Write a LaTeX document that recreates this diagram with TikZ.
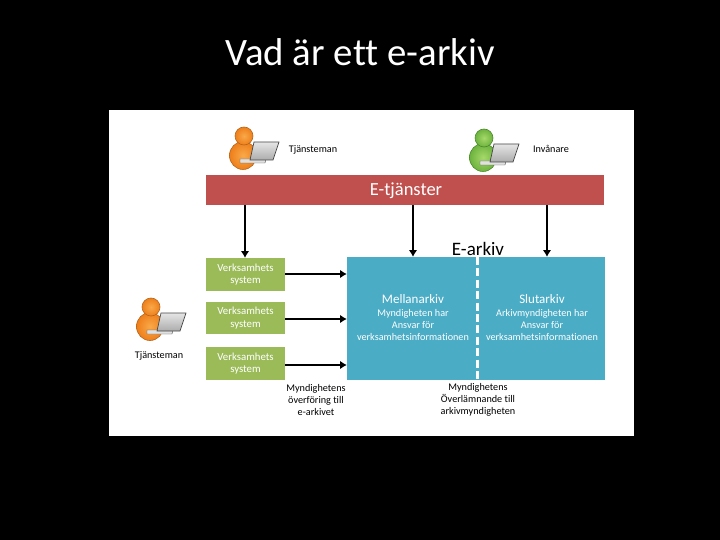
\documentclass[tikz,border=0pt]{standalone}
\usepackage{fontspec}
\setmainfont{Carlito}[Ligatures=CommonOff]
\usetikzlibrary{arrows.meta}
\definecolor{barred}{HTML}{C0504D}
\definecolor{archblue}{HTML}{4BACC6}
\definecolor{sysgreen}{HTML}{9BBB59}
\definecolor{orin}{HTML}{F9A94A}
\definecolor{orout}{HTML}{EE7F1A}
\definecolor{orline}{HTML}{B5651D}
\definecolor{grin}{HTML}{A6D96A}
\definecolor{grout}{HTML}{6DB33F}
\definecolor{grline}{HTML}{4C8A2B}
\tikzset{
  x=1pt,y=-1pt,
  flow/.style={draw=black,line width=2pt,-{Latex[length=7pt,width=8.5pt]}},
  plain/.style={inner sep=0pt,outer sep=0pt,font=\fontsize{10.2}{12}\selectfont,text=black,align=center},
  inblue/.style={inner sep=0pt,outer sep=0pt,font=\fontsize{10.2}{12}\selectfont,text=white,align=center},
  sysbox/.style={fill=sysgreen,minimum width=79pt,inner sep=0pt,outer sep=0pt,text=white,align=center,font=\fontsize{10.8}{12.5}\selectfont},
  pics/user/.style n args={3}{code={
    \shade[inner color=#1,outer color=#2,draw=#3,line width=.6pt] (-1,19.5) ellipse [x radius=13.5,y radius=14];
    \shade[inner color=#1,outer color=#2,draw=#3,line width=.6pt] (0,0) circle [radius=9];
    \fill[black!12,draw=gray!70!black,line width=.4pt] (-4,23) -- (22,23) -- (21,27) -- (-4,27) -- cycle;
    \shade[top color=gray!20,bottom color=gray!65,draw=gray!55!black,line width=.7pt]
      (10,6) -- (35,6) -- (29,24) -- (6,24) -- cycle;
  }}
}
\begin{document}
\begin{tikzpicture}
\useasboundingbox (0,0) rectangle (720,540);
\fill[black] (0,0) rectangle (720,540);
\fill[white] (109,110) rectangle (634,436);
\node[text=white,font=\fontsize{38.8}{44}\selectfont,inner sep=0pt] (title) at (360,52) {Vad är ett e-arkiv};

\pic at (244,136) {user={orin}{orout}{orline}};
\pic at (484,138) {user={grin}{grout}{grline}};
\pic at (151,307) {user={orin}{orout}{orline}};

\node[plain] (t1) at (313,150) {Tjänsteman};
\node[plain] (t2) at (551,149) {Invånare};
\node[plain] (t3) at (159,356) {Tjänsteman};

\node[fill=barred,minimum width=398pt,minimum height=30pt,inner sep=0pt,outer sep=0pt] (etj) at (405,190) {};
\node[text=white,font=\fontsize{18.5}{20}\selectfont,inner sep=0pt] (etjt) at (406,191) {E-tjänster};

\node[font=\fontsize{19}{20}\selectfont,inner sep=0pt] (earkivt) at (478,249) {E-arkiv};
\node[fill=archblue,minimum width=258pt,minimum height=123pt,inner sep=0pt,outer sep=0pt] (ark) at (476,318.5) {};

\coordinate (dashtop) at (477,257);
\coordinate (dashbot) at (477,380);
\draw[white,line width=3pt,dash pattern=on 8pt off 3.4pt] (dashtop) -- (dashbot);

\node[sysbox,minimum height=33pt] (s1) at (245.5,274.5) {Verksamhets\\system};
\node[sysbox,minimum height=32pt] (s2) at (245.5,318) {Verksamhets\\system};
\node[sysbox,minimum height=33pt] (s3) at (245.5,363.5) {Verksamhets\\system};

\draw[flow] (etj.south -| 245,0) -- (s1.north -| 245,0);
\draw[flow] (etj.south -| 413,0) -- (ark.north -| 413,0);
\draw[flow] (etj.south -| 547,0) -- (ark.north -| 547,0);

\draw[flow] (s1.east |- 0,274) -- (ark.west |- 0,274);
\draw[flow] (s2.east |- 0,319) -- (ark.west |- 0,319);
\draw[flow] (s3.east |- 0,365) -- (ark.west |- 0,365);

\node[inblue,font=\fontsize{13}{14}\selectfont] (mell) at (413,299) {Mellanarkiv};
\node[inblue,font=\fontsize{13}{14}\selectfont] (slut) at (542,299) {Slutarkiv};
\node[inblue] (m2) at (413,325) {Myndigheten har\\Ansvar för\\verksamhetsinformationen};
\node[inblue] (s22) at (542,325) {Arkivmyndigheten har\\Ansvar för\\verksamhetsinformationen};
\node[plain] (c1) at (316,400) {Myndighetens\\överföring till\\e-arkivet};
\node[plain] (c2) at (478,400) {Myndighetens\\Överlämnande till\\arkivmyndigheten};
\end{tikzpicture}
\end{document}
